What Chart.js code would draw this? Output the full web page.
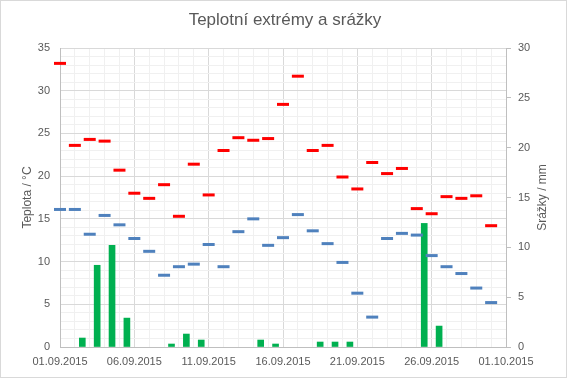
<!DOCTYPE html>
<html>
<head>
<meta charset="utf-8">
<script src="https://cdn.jsdelivr.net/npm/chart.js@4.4.1/dist/chart.umd.min.js"></script>
<style>
  html, body { margin: 0; padding: 0; background: #fff; }
  #wrap { width: 567px; height: 378px; }
</style>
</head>
<body>
<div id="wrap"><canvas id="graf"></canvas></div>
<script>
// dny 01.09.2015 .. 30.09.2015
const dny = ["01.09.", "02.09.", "03.09.", "04.09.", "05.09.", "06.09.", "07.09.", "08.09.", "09.09.", "10.09.",
             "11.09.", "12.09.", "13.09.", "14.09.", "15.09.", "16.09.", "17.09.", "18.09.", "19.09.", "20.09.",
             "21.09.", "22.09.", "23.09.", "24.09.", "25.09.", "26.09.", "27.09.", "28.09.", "29.09.", "30.09."];
const maxTeploty = [33.2, 23.6, 24.3, 24.1, 20.7, 18.0, 17.4, 19.0, 15.3, 21.4,
                    17.8, 23.0, 24.5, 24.2, 24.4, 28.4, 31.7, 23.0, 23.6, 19.9,
                    18.5, 21.6, 20.3, 20.9, 16.2, 15.6, 17.6, 17.4, 17.7, 14.2];
const minTeploty = [16.1, 16.1, 13.2, 15.4, 14.3, 12.7, 11.2, 8.4, 9.4, 9.7,
                    12.0, 9.4, 13.5, 15.0, 11.9, 12.8, 15.5, 13.6, 12.1, 9.9,
                    6.3, 3.5, 12.7, 13.3, 13.1, 10.7, 9.4, 8.6, 6.9, 5.2];
const srazky = [0, 0.9, 8.2, 10.2, 2.9, 0, 0, 0.3, 1.3, 0.7,
                0, 0, 0, 0.7, 0.3, 0, 0, 0.5, 0.5, 0.5,
                0, 0, 0, 0, 12.4, 2.1, 0, 0, 0, 0];
const popiskyX = ["01.09.2015", "06.09.2015", "11.09.2015", "16.09.2015", "21.09.2015", "26.09.2015", "01.10.2015"];

Chart.defaults.font.family = '"Liberation Sans", Arial, sans-serif';
Chart.defaults.font.size = 11;
Chart.defaults.color = "#595959";

const barvaMrizky = (ctx) => (ctx.tick && ctx.tick.value % 5 === 0 ? "#d9d9d9" : "#f0f0f0");

// ramecek grafu + popisek prave osy (cteny zdola nahoru jako v Excelu)
const ramecek = {
    id: "ramecek",
    afterDraw(chart) {
        const c = chart.ctx;
        const a = chart.chartArea;
        c.save();
        c.strokeStyle = "#d9d9d9";
        c.lineWidth = 1;
        c.strokeRect(0.5, 0.5, chart.width - 1, chart.height - 1);
        c.translate(543, (a.top + a.bottom) / 2);
        c.rotate(-Math.PI / 2);
        c.font = '12px "Liberation Sans", Arial, sans-serif';
        c.fillStyle = "#595959";
        c.textAlign = "center";
        c.textBaseline = "middle";
        c.fillText("Srážky / mm", 0, 0);
        c.restore();
    },
};

new Chart(document.getElementById("graf"), {
    type: "scatter",
    data: {
        datasets: [
            {
                type: "scatter",
                label: "Maximum",
                data: maxTeploty.map((v, i) => ({ x: i, y: v })),
                pointStyle: "line",
                radius: 6,
                borderWidth: 3,
                borderColor: "#ff0000",
                backgroundColor: "#ff0000",
                yAxisID: "y",
                clip: false,
                order: 1,
            },
            {
                type: "scatter",
                label: "Minimum",
                data: minTeploty.map((v, i) => ({ x: i, y: v })),
                pointStyle: "line",
                radius: 6,
                borderWidth: 3,
                borderColor: "#4f81bd",
                backgroundColor: "#4f81bd",
                yAxisID: "y",
                clip: false,
                order: 2,
            },
            {
                type: "bar",
                label: "Srážky",
                data: srazky.map((v, i) => ({ x: i + 0.5, y: v === 0 ? null : v })),
                backgroundColor: "#00b050",
                barThickness: 6,
                yAxisID: "y2",
                order: 3,
            },
        ],
    },
    options: {
        responsive: true,
        maintainAspectRatio: false,
        devicePixelRatio: 1,
        animation: false,
        events: [],
        layout: { padding: { left: 16, right: 13, top: 0, bottom: 0 } },
        plugins: {
            legend: { display: false },
            tooltip: { enabled: false },
            title: {
                display: true,
                text: "Teplotní extrémy a srážky",
                color: "#595959",
                font: { size: 17, weight: "normal" },
                padding: { top: 10, bottom: 17.6 },
            },
        },
        scales: {
            x: {
                type: "linear",
                min: 0,
                max: 30,
                offset: false,
                ticks: {
                    stepSize: 1,
                    autoSkip: false,
                    maxRotation: 0,
                    padding: 8,
                    callback: (v) => (v % 5 === 0 ? popiskyX[v / 5] : ""),
                },
                grid: { color: barvaMrizky, drawTicks: false, offset: false },
                border: { color: "#bfbfbf" },
                afterFit(s) { s.height = 31; },
            },
            y: {
                position: "left",
                min: 0,
                max: 35,
                ticks: {
                    stepSize: 1,
                    autoSkip: false,
                    padding: 10,
                    callback: (v) => (v % 5 === 0 ? v : ""),
                },
                grid: { color: barvaMrizky, drawTicks: false },
                border: { color: "#bfbfbf" },
                title: { display: true, text: "Teplota / °C", font: { size: 12 } },
                afterFit(s) { s.width = 44; },
            },
            y2: {
                position: "right",
                min: 0,
                max: 30,
                ticks: { stepSize: 5, padding: 7 },
                grid: { drawOnChartArea: false, drawTicks: true, tickLength: 5, tickColor: "#bfbfbf" },
                border: { color: "#bfbfbf" },
                afterFit(s) { s.width = 48; },
            },
        },
    },
    plugins: [ramecek],
});
</script>
</body>
</html>
